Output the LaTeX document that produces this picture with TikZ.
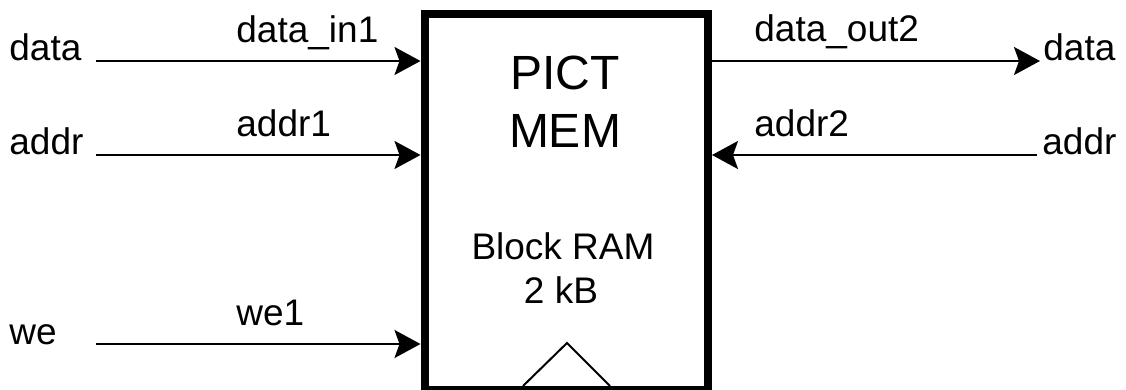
\documentclass[tikz,border=0pt]{standalone}
\usepackage{fontspec}
\setmainfont{Liberation Sans}
\usetikzlibrary{arrows.meta, positioning}

\begin{document}
\begin{tikzpicture}[
    x=0.5pt, y=-0.5pt,
    memblock/.style={draw, rectangle, line width=4pt, minimum width=141.75pt, minimum height=188pt, inner sep=0pt},
    title/.style={font=\fontsize{24}{29}\selectfont, inner sep=0pt},
    lbl/.style={font=\fontsize{18.5}{22}\selectfont, inner sep=0pt},
    arrow/.style={-{Stealth[length=13pt, width=14pt, inset=2.5pt]}, line width=1pt}
]
\useasboundingbox (0,0) rectangle (1126,390);

% Bloco de memoria
\node[memblock] (mem) at (566.25,202) {};
\node[title, anchor=base] (pict) at (565,90) {PICT};
\node[title, anchor=base] (memname) at (565,148) {MEM};
\node[lbl, anchor=base] (bram) at (563,259) {Block RAM};
\node[lbl, anchor=base] (size) at (561,304) {2 kB};

% Clock
\coordinate (clkL) at (523,386);
\coordinate (clkTop) at (567,343);
\coordinate (clkR) at (610,386);
\draw[line width=1pt] (clkL) -- (clkTop) -- (clkR);

% Porta 1 (esquerda)
\node[lbl, anchor=base west] (dataL) at (9,61) {data};
\node[lbl, anchor=base west] (addrL) at (9,155) {addr};
\node[lbl, anchor=base west] (weL) at (9,344) {we};
\coordinate (dataLend) at (96,61);
\coordinate (addrLend) at (96,155);
\coordinate (weLend) at (96,344);
\node[lbl, anchor=base west] (dataIn1) at (236,43) {data\_in1};
\node[lbl, anchor=base west] (addr1) at (236,137) {addr1};
\node[lbl, anchor=base west] (we1) at (236,325) {we1};

% Porta 2 (direita)
\node[lbl, anchor=base west] (dataR) at (1043,61) {data};
\node[lbl, anchor=base west] (addrR) at (1042,155) {addr};
\coordinate (dataRend) at (1040,61);
\coordinate (addrRend) at (1037,155);
\node[lbl, anchor=base west] (dataOut2) at (754,42) {data\_out2};
\node[lbl, anchor=base west] (addr2) at (754,137) {addr2};

% Setas
\draw[arrow] (dataLend) -- (dataLend -| mem.west);
\draw[arrow] (addrLend) -- (addrLend -| mem.west);
\draw[arrow] (weLend) -- (weLend -| mem.west);
\draw[arrow] (dataRend -| mem.east) -- (dataRend);
\draw[arrow] (addrRend) -- (addrRend -| mem.east);

\end{tikzpicture}
\end{document}
